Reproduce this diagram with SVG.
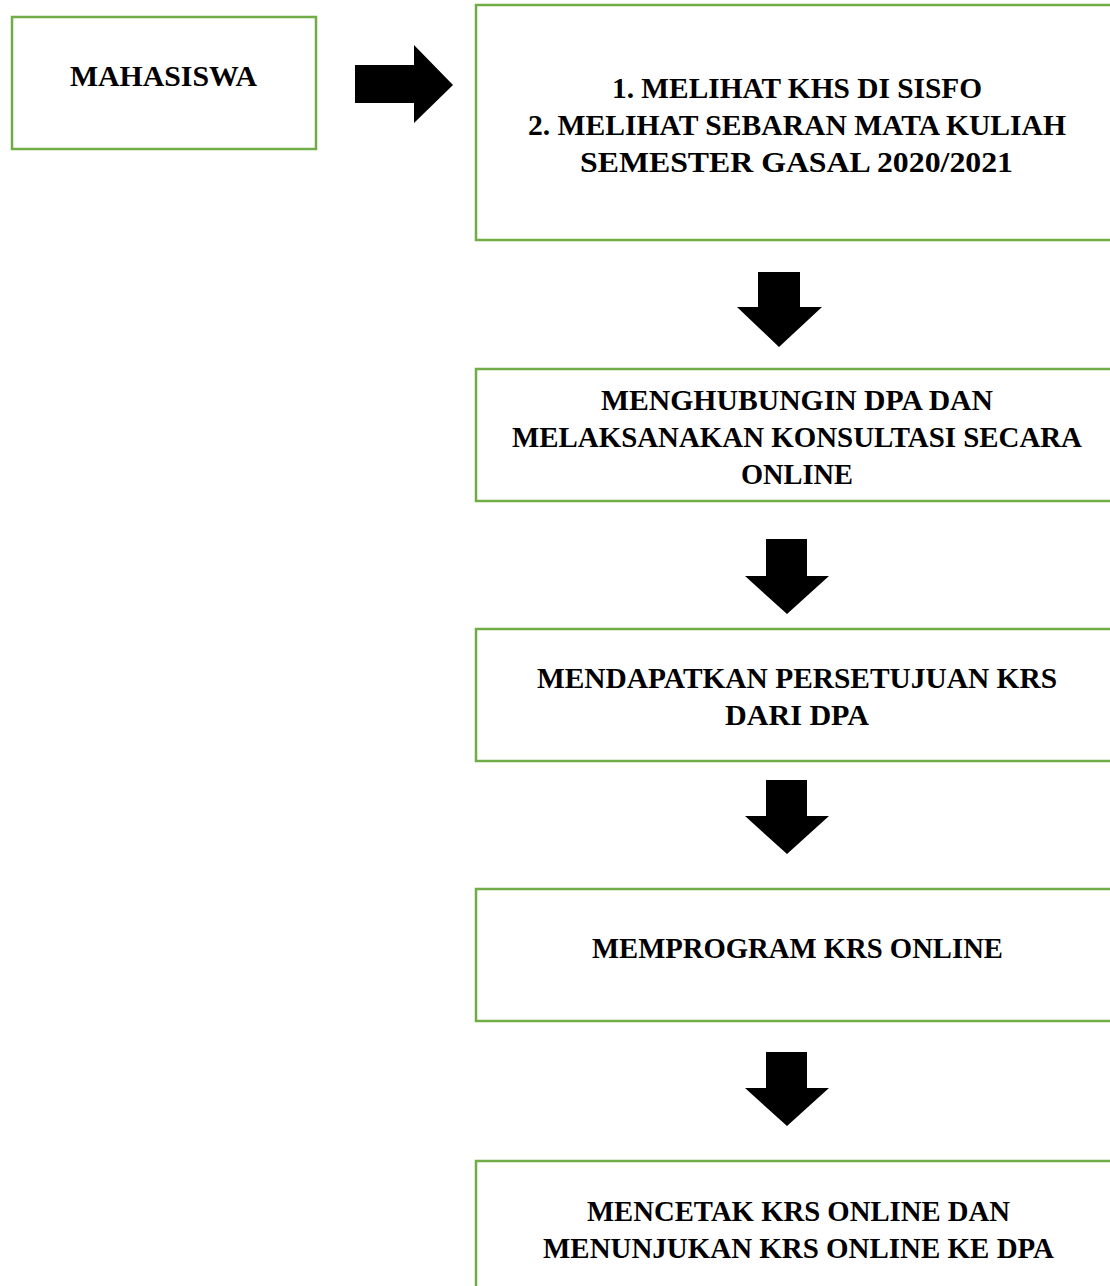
<svg xmlns="http://www.w3.org/2000/svg" width="1110" height="1286" viewBox="0 0 1110 1286">
<style>
.box{fill:#fff;stroke:#70AD47;stroke-width:2.5}
.t{font-family:"Liberation Serif","DejaVu Serif",serif;font-weight:bold;font-size:30px;fill:#000;text-anchor:middle}
.arr{fill:#000}
</style>
<rect width="1110" height="1286" fill="#fff"/>
<g id="n_mahasiswa">
<rect class="box" x="12" y="17" width="304" height="132"/>
<text class="t" x="163.5" y="86" textLength="187" lengthAdjust="spacingAndGlyphs">MAHASISWA</text>
</g>
<g id="n_khs">
<rect class="box" x="476" y="5" width="650" height="235"/>
<text class="t" x="797" y="98" textLength="370" lengthAdjust="spacingAndGlyphs">1. MELIHAT KHS DI SISFO</text>
<text class="t" x="797" y="135" textLength="538" lengthAdjust="spacingAndGlyphs">2. MELIHAT SEBARAN MATA KULIAH</text>
<text class="t" x="796.5" y="172" textLength="433" lengthAdjust="spacingAndGlyphs">SEMESTER GASAL 2020/2021</text>
</g>
<g id="n_dpa">
<rect class="box" x="476" y="369" width="650" height="132"/>
<text class="t" x="797" y="410" textLength="392" lengthAdjust="spacingAndGlyphs">MENGHUBUNGIN DPA DAN</text>
<text class="t" x="797" y="447" textLength="570" lengthAdjust="spacingAndGlyphs">MELAKSANAKAN KONSULTASI SECARA</text>
<text class="t" x="797" y="484" textLength="112" lengthAdjust="spacingAndGlyphs">ONLINE</text>
</g>
<g id="n_persetujuan">
<rect class="box" x="476" y="629" width="650" height="132"/>
<text class="t" x="797" y="688" textLength="520" lengthAdjust="spacingAndGlyphs">MENDAPATKAN PERSETUJUAN KRS</text>
<text class="t" x="797" y="725" textLength="144" lengthAdjust="spacingAndGlyphs">DARI DPA</text>
</g>
<g id="n_program">
<rect class="box" x="476" y="889" width="650" height="132"/>
<text class="t" x="797.5" y="958" textLength="411" lengthAdjust="spacingAndGlyphs">MEMPROGRAM KRS ONLINE</text>
</g>
<g id="n_cetak">
<rect class="box" x="476" y="1161" width="650" height="140"/>
<text class="t" x="798.5" y="1221" textLength="423" lengthAdjust="spacingAndGlyphs">MENCETAK KRS ONLINE DAN</text>
<text class="t" x="798.5" y="1258" textLength="511" lengthAdjust="spacingAndGlyphs">MENUNJUKAN KRS ONLINE KE DPA</text>
</g>
<g id="connectors">
<polygon class="arr" points="355,65 414,65 414,45 453,85 414,123 414,103 355,103"/>
<polygon class="arr" points="758,272 800,272 800,307 822,307 779,347 737,307 758,307"/>
<polygon class="arr" points="766,539 807,539 807,576 829,576 787,614 745,576 766,576"/>
<polygon class="arr" points="766,780 807,780 807,816 829,816 787,854 745,816 766,816"/>
<polygon class="arr" points="766,1052 807,1052 807,1088 829,1088 787,1126 745,1088 766,1088"/>
</g>
</svg>
